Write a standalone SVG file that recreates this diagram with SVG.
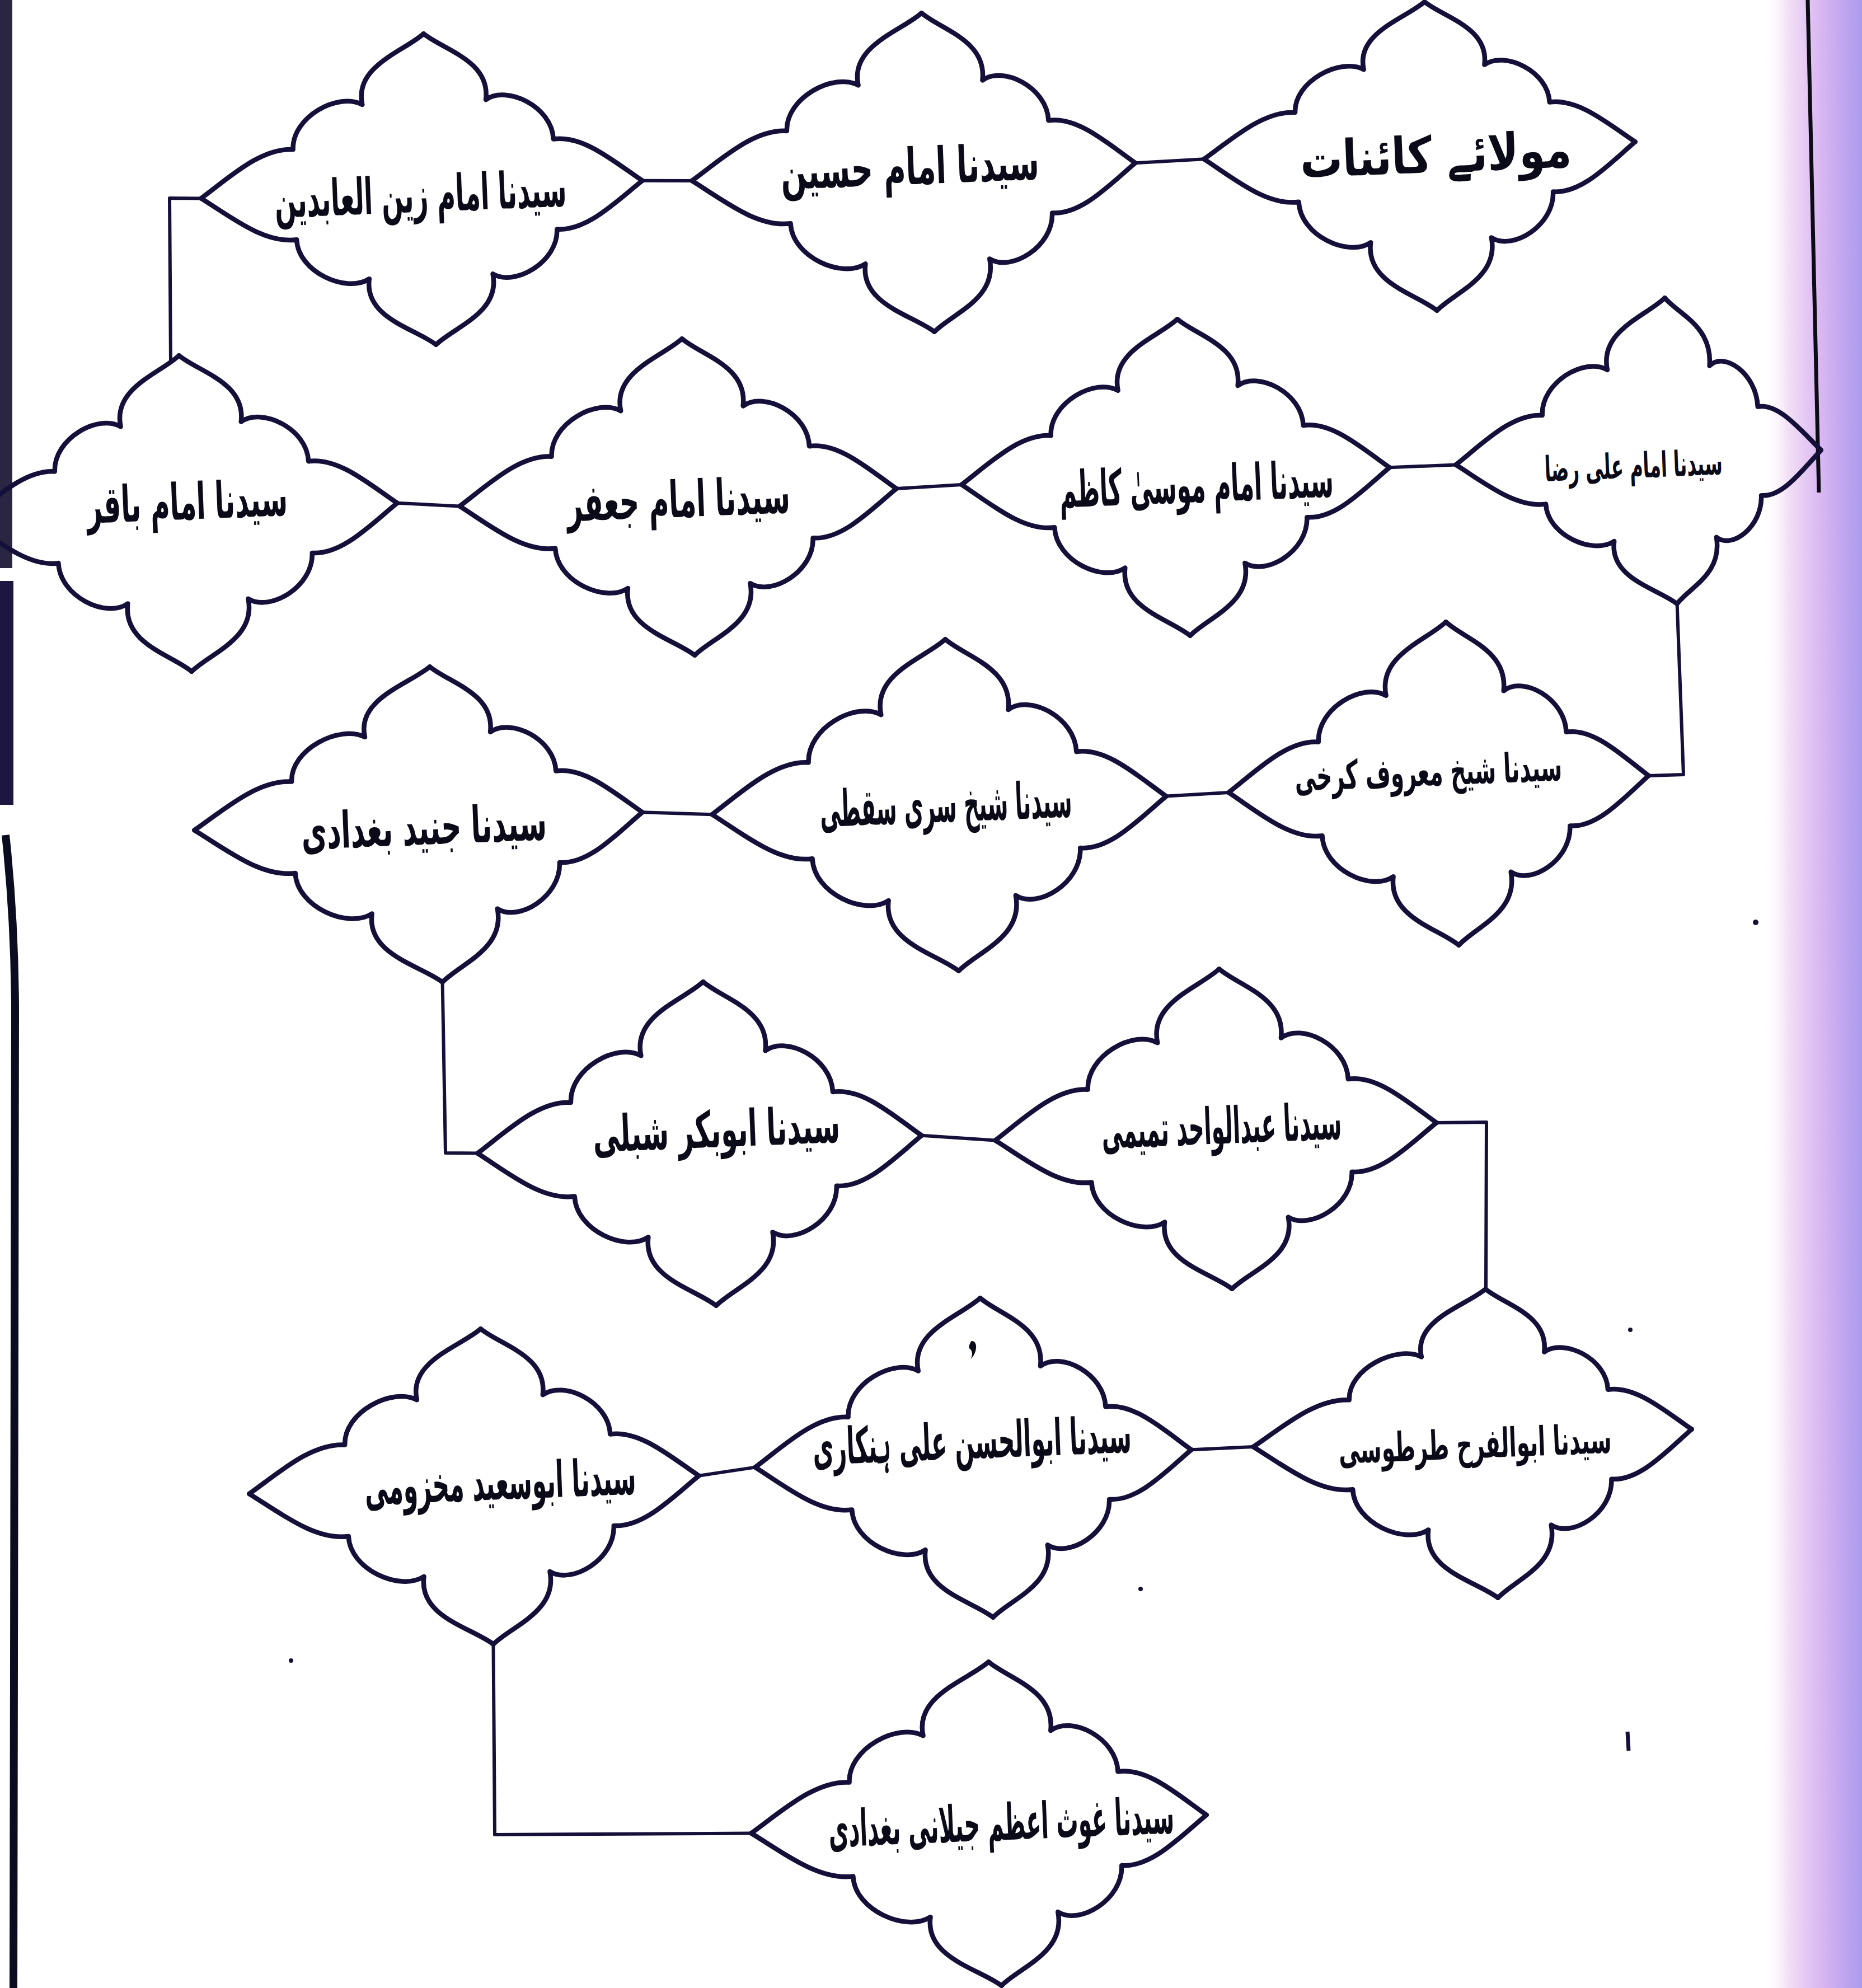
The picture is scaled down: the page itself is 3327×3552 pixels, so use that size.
<svg xmlns="http://www.w3.org/2000/svg" xmlns:xlink="http://www.w3.org/1999/xlink" width="3327" height="3552" viewBox="0 0 3327 3552">
<defs>
<linearGradient id="band" x1="0" y1="0" x2="1" y2="0">
<stop offset="0" stop-color="#ffffff" stop-opacity="0"/>
<stop offset="0.25" stop-color="#f3e0f6"/>
<stop offset="0.55" stop-color="#dcbaf2"/>
<stop offset="0.8" stop-color="#c2a6f0"/>
<stop offset="1" stop-color="#ab9cee"/>
</linearGradient>
<path id="q" d="M0,-1 C0.09,-0.89 0.31,-0.81 0.28,-0.56 C0.38,-0.65 0.59,-0.5 0.59,-0.29 C0.73,-0.31 0.87,-0.13 1,0" fill="none" stroke="#15103a" stroke-width="8.5" vector-effect="non-scaling-stroke" stroke-linecap="round" stroke-linejoin="round"/>
</defs>
<style>
.c{fill:none;stroke:#15103a;stroke-width:6;stroke-linejoin:round;stroke-linecap:round}
.t{font-family:"DejaVu Sans","Noto Sans",sans-serif;font-size:90px;font-weight:bold;fill:#0b0a18;text-anchor:middle}
.s{font-size:72px}
.r{font-size:62px}
</style>
<rect x="0" y="0" width="3327" height="3552" fill="#ffffff"/>
<rect x="3150" y="0" width="177" height="3552" fill="url(#band)"/>
<rect x="0" y="0" width="22" height="1015" fill="#2a2540"/>
<rect x="0" y="1038" width="24" height="400" fill="#1c1640"/>
<path d="M10,1492 Q26,1640 27,1800 L24,3552" fill="none" stroke="#0c0c20" stroke-width="14"/>
<line x1="3230" y1="0" x2="3250" y2="880" stroke="#0c0c14" stroke-width="7"/>

<g id="connectors">
<path class="c" d="M1147.7,322.8 L1236.3,322.9"/>
<path class="c" d="M2028.7,291.1 L2151.3,284.2"/>
<path class="c" d="M359.3,354.4 L303,354 L305,648"/>
<path class="c" d="M709.7,898.8 L821.3,904.4"/>
<path class="c" d="M1601.7,873.1 L1718.3,865.9"/>
<path class="c" d="M2482.7,835.2 L2601.3,830.4"/>
<path class="c" d="M2996.6,1078.8 L3008,1384 L2945.7,1385.9"/>
<path class="c" d="M2195.3,1416 L2083.7,1422.6"/>
<path class="c" d="M1272.3,1455.2 L1147.7,1451.2"/>
<path class="c" d="M790.6,1754.8 L796,2060 L853.3,2060.6"/>
<path class="c" d="M1646.7,2028.8 L1778.3,2037.5"/>
<path class="c" d="M2566.7,2005.9 L2656,2005 L2655,2303"/>
<path class="c" d="M2239.3,2585.1 L2128.7,2590.3"/>
<path class="c" d="M1349.3,2621.6 L1248.7,2636.8"/>
<path class="c" d="M881.5,2937.8 L884,3278 L1342.3,3275.5"/>
</g>

<g id="n-maula" transform="translate(2556,268) rotate(-2.3)">
<use href="#q" transform="scale(366,265)"/><use href="#q" transform="scale(-405,265)"/><use href="#q" transform="scale(366,-287)"/><use href="#q" transform="scale(-405,-287)"/>
<text class="t" x="9" y="40" textLength="485" lengthAdjust="spacingAndGlyphs">مولائے کائنات</text>
</g>
<g id="n-husain" transform="translate(1658,306) rotate(-2.3)">
<use href="#q" transform="scale(371,283)"/><use href="#q" transform="scale(-422,283)"/><use href="#q" transform="scale(371,-287)"/><use href="#q" transform="scale(-422,-287)"/>
<text class="t" x="-32" y="22" textLength="462" lengthAdjust="spacingAndGlyphs">سیدنا امام حسین</text>
</g>
<g id="n-zain" transform="translate(768,338) rotate(-2.3)">
<use href="#q" transform="scale(380,278)"/><use href="#q" transform="scale(-409,278)"/><use href="#q" transform="scale(380,-278)"/><use href="#q" transform="scale(-409,-278)"/>
<text class="t" x="-17" y="40" textLength="522" lengthAdjust="spacingAndGlyphs">سیدنا امام زین العابدین</text>
</g>
<g id="n-raza" transform="translate(2986,815) rotate(-2.3)">
<use href="#q" transform="scale(268,283)"/><use href="#q" transform="scale(-385,283)"/><use href="#q" transform="scale(268,-264)"/><use href="#q" transform="scale(-385,-264)"/>
<text class="t r" x="-68" y="36" textLength="318" lengthAdjust="spacingAndGlyphs">سیدنا امام علی رضا</text>
</g>
<g id="n-kazim" transform="translate(2115,850) rotate(-2.3)">
<use href="#q" transform="scale(368,280)"/><use href="#q" transform="scale(-397,280)"/><use href="#q" transform="scale(368,-286)"/><use href="#q" transform="scale(-397,-286)"/>
<text class="t" x="22" y="48" textLength="490" lengthAdjust="spacingAndGlyphs">سیدنا امام موسیٰ کاظم</text>
</g>
<g id="n-jafar" transform="translate(1230,888) rotate(-2.3)">
<use href="#q" transform="scale(372,283)"/><use href="#q" transform="scale(-409,283)"/><use href="#q" transform="scale(372,-283)"/><use href="#q" transform="scale(-409,-283)"/>
<text class="t" x="-18" y="35" textLength="399" lengthAdjust="spacingAndGlyphs">سیدنا امام جعفر</text>
</g>
<g id="n-baqir" transform="translate(331,914) rotate(-2.3)">
<use href="#q" transform="scale(379,279)"/><use href="#q" transform="scale(-390,279)"/><use href="#q" transform="scale(379,-286)"/><use href="#q" transform="scale(-390,-286)"/>
<text class="t" x="4" y="14" textLength="359" lengthAdjust="spacingAndGlyphs">سیدنا امام باقر</text>
</g>
<g id="n-maruf" transform="translate(2595,1400) rotate(-2.3)">
<use href="#q" transform="scale(351,289)"/><use href="#q" transform="scale(-400,289)"/><use href="#q" transform="scale(351,-289)"/><use href="#q" transform="scale(-400,-289)"/>
<text class="t s" x="-42" y="2" textLength="478" lengthAdjust="spacingAndGlyphs">سیدنا شیخ معروف کرخی</text>
</g>
<g id="n-sari" transform="translate(1701,1438) rotate(-2.3)">
<use href="#q" transform="scale(383,296)"/><use href="#q" transform="scale(-429,296)"/><use href="#q" transform="scale(383,-297)"/><use href="#q" transform="scale(-429,-297)"/>
<text class="t" x="-11" y="30" textLength="451" lengthAdjust="spacingAndGlyphs">سیدنا شیخ سری سقطی</text>
</g>
<g id="n-junaid" transform="translate(779,1466) rotate(-2.3)">
<use href="#q" transform="scale(369,275)"/><use href="#q" transform="scale(-432,275)"/><use href="#q" transform="scale(369,-289)"/><use href="#q" transform="scale(-432,-289)"/>
<text class="t" x="-22" y="42" textLength="439" lengthAdjust="spacingAndGlyphs">سیدنا جنید بغدادی</text>
</g>
<g id="n-shibli" transform="translate(1268,2044) rotate(-2.3)">
<use href="#q" transform="scale(379,290)"/><use href="#q" transform="scale(-415,290)"/><use href="#q" transform="scale(379,-289)"/><use href="#q" transform="scale(-415,-289)"/>
<text class="t" x="13" y="6" textLength="442" lengthAdjust="spacingAndGlyphs">سیدنا ابوبکر شبلی</text>
</g>
<g id="n-tamimi" transform="translate(2190,2021) rotate(-2.3)">
<use href="#q" transform="scale(377,290)"/><use href="#q" transform="scale(-412,290)"/><use href="#q" transform="scale(377,-282)"/><use href="#q" transform="scale(-412,-282)"/>
<text class="t" x="-7" y="22" textLength="429" lengthAdjust="spacingAndGlyphs">سیدنا عبدالواحد تمیمی</text>
</g>
<g id="n-tartusi" transform="translate(2665,2568) rotate(-2.3)">
<use href="#q" transform="scale(358,265)"/><use href="#q" transform="scale(-426,265)"/><use href="#q" transform="scale(358,-287)"/><use href="#q" transform="scale(-426,-287)"/>
<text class="t s" x="-30" y="36" textLength="488" lengthAdjust="spacingAndGlyphs">سیدنا ابوالفرح طرطوسی</text>
</g>
<g id="n-hankari" transform="translate(1763,2605) rotate(-2.3)">
<use href="#q" transform="scale(366,286)"/><use href="#q" transform="scale(-414,286)"/><use href="#q" transform="scale(366,-285)"/><use href="#q" transform="scale(-414,-285)"/>
<text class="t" x="-25" y="0" textLength="570" lengthAdjust="spacingAndGlyphs">سیدنا ابوالحسن علی ہنکاری</text>
<path d="M-19,-210 q9,0 8,13 q-2,12 -10,19 q5,-11 0,-17 q-6,-3 2,-15z" fill="#0b0a18"/>
</g>
<g id="n-makhzumi" transform="translate(870,2652) rotate(-2.3)">
<use href="#q" transform="scale(379,278)"/><use href="#q" transform="scale(-425,278)"/><use href="#q" transform="scale(379,-286)"/><use href="#q" transform="scale(-425,-286)"/>
<text class="t" x="24" y="28" textLength="485" lengthAdjust="spacingAndGlyphs">سیدنا ابوسعید مخزومی</text>
</g>
<g id="n-ghaus" transform="translate(1778,3258) rotate(-2.3)">
<use href="#q" transform="scale(378,289)"/><use href="#q" transform="scale(-436,289)"/><use href="#q" transform="scale(378,-290)"/><use href="#q" transform="scale(-436,-290)"/>
<text class="t" x="11" y="30" textLength="618" lengthAdjust="spacingAndGlyphs">سیدنا غوث اعظم جیلانی بغدادی</text>
</g>

<g id="marks" fill="#15103a">
<circle cx="3137" cy="1648" r="5"/>
<circle cx="2913" cy="2376" r="4"/>
<circle cx="2038" cy="2839" r="4"/>
<circle cx="520" cy="2967" r="4"/>
<line x1="2908" y1="3094" x2="2910" y2="3128" stroke="#15103a" stroke-width="7"/>
</g>
</svg>
